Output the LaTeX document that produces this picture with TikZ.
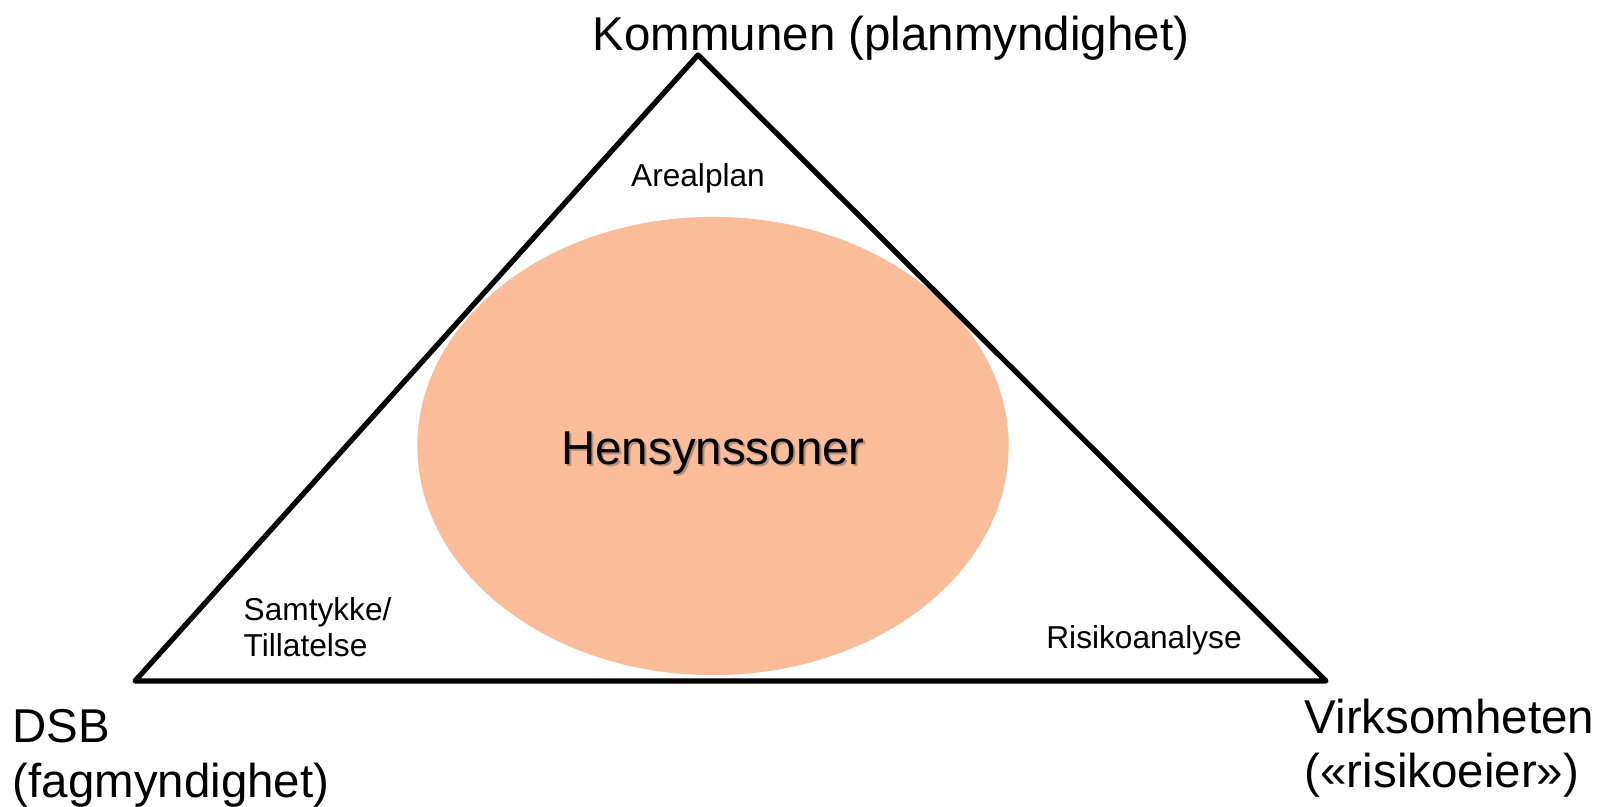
\documentclass[tikz,border=0pt]{standalone}
\usepackage{fontspec}
\setmainfont{Liberation Sans}
\usepackage{tikz}
\usetikzlibrary{positioning, shapes.geometric}
\definecolor{zone_fill}{RGB}{251,188,154}
\definecolor{zone_shadow}{RGB}{180,145,125}
\tikzstyle{edge} = [line width=1.5pt, line join=round, black]
\tikzstyle{corner} = [font=\fontsize{13.5}{15.6}\selectfont, inner sep=0pt, align=left]
\tikzstyle{role} = [font=\fontsize{9}{10.25}\selectfont, inner sep=0pt, align=left]
\tikzstyle{zone} = [ellipse, fill=zone_fill, minimum width=5.91cm, minimum height=4.58cm, inner sep=0pt]

\begin{document}
\begin{tikzpicture}[x=0.01cm, y=-0.01cm]

    \useasboundingbox (0,0) rectangle (1598,807);

    \node[zone] (zone) at (713,446) {};
    \node[corner, text=zone_shadow, anchor=base] (zoneshadow) at (715,467) {Hensynssoner};
    \node[corner, anchor=base] (zonetext) at (713,465) {Hensynssoner};

    \coordinate (top) at (698,55);
    \coordinate (left) at (135,681);
    \coordinate (right) at (1326,681);
    \draw[edge] (top) -- (left) -- (right) -- cycle;

    \node[corner, anchor=base] (kommunen) at (891,51) {Kommunen (planmyndighet)};
    \node[corner, anchor=north west] (dsb) at (12,709) {DSB\\(fagmyndighet)};
    \node[corner, anchor=north west] (virksomhet) at (1304,698) {Virksomheten\\(«risikoeier»)};

    \node[role, anchor=base] (arealplan) at (698,187) {Arealplan};
    \node[role, anchor=north west] (samtykke) at (243,597) {Samtykke/\\Tillatelse};
    \node[role, anchor=base] (risiko) at (1144,648) {Risikoanalyse};

\end{tikzpicture}
\end{document}
